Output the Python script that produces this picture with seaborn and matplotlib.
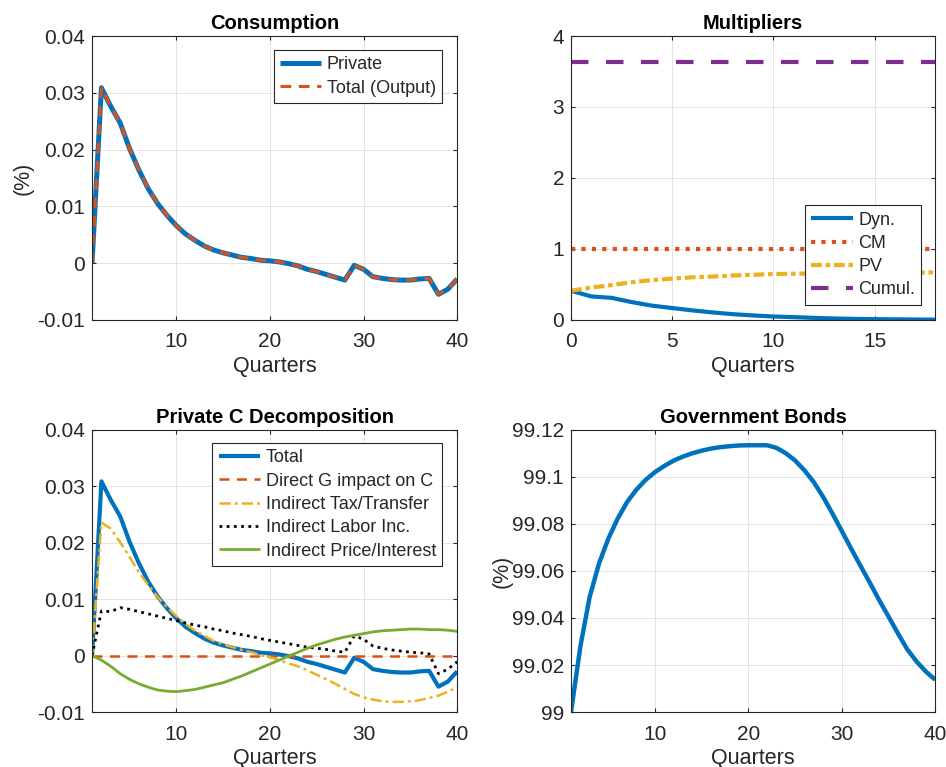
import numpy as np
import seaborn as sns
import matplotlib.pyplot as plt
from matplotlib.ticker import FuncFormatter

# quarters 1..40
quarters = list(range(1, 41))

c_private = [0.0, 0.0309, 0.0276, 0.0247, 0.0202, 0.0164, 0.0131, 0.0105, 0.0084, 0.0066,
             0.0051, 0.0040, 0.0030, 0.0023, 0.0018, 0.0014, 0.0010, 0.0008, 0.0005, 0.0004,
             0.0002, -0.0001, -0.0005, -0.0011, -0.0015, -0.0020, -0.0025, -0.0030, -0.0004, -0.0011,
             -0.0024, -0.0027, -0.0029, -0.0030, -0.0030, -0.0028, -0.0027, -0.0055, -0.0046, -0.0028]
c_total = c_private

direct_g = [0.0] * 40
tax_transfer = [0.0, 0.0236, 0.0225, 0.0201, 0.0175, 0.0148, 0.0125, 0.0104, 0.0086, 0.0070,
                0.0056, 0.0044, 0.0035, 0.0026, 0.0020, 0.0015, 0.0010, 0.0006, 0.0001, -0.0003,
                -0.0008, -0.0014, -0.0019, -0.0026, -0.0034, -0.0042, -0.0050, -0.0059, -0.0068, -0.0074,
                -0.0078, -0.0081, -0.0082, -0.0082, -0.0081, -0.0079, -0.0075, -0.0071, -0.0064, -0.0056]
labor_inc = [0.0, 0.0079, 0.0078, 0.0085, 0.0082, 0.0078, 0.0074, 0.0070, 0.0066, 0.0062,
             0.0058, 0.0054, 0.0051, 0.0047, 0.0044, 0.0040, 0.0037, 0.0034, 0.0030, 0.0027,
             0.0024, 0.0021, 0.0018, 0.0015, 0.0013, 0.0011, 0.0008, 0.0006, 0.0035, 0.0029,
             0.0017, 0.0013, 0.0010, 0.0008, 0.0006, 0.0005, 0.0003, -0.0032, -0.0024, -0.0011]
price_interest = [0.0, -0.0008, -0.0019, -0.0032, -0.0042, -0.0050, -0.0056, -0.0061, -0.0063, -0.0064,
                  -0.0062, -0.0060, -0.0056, -0.0052, -0.0048, -0.0042, -0.0036, -0.0029, -0.0022, -0.0015,
                  -0.0008, -0.0001, 0.0006, 0.0013, 0.0019, 0.0024, 0.0029, 0.0033, 0.0036, 0.0039,
                  0.0042, 0.0044, 0.0045, 0.0046, 0.0047, 0.0047, 0.0046, 0.0046, 0.0045, 0.0043]

gov_bonds = [99.000, 99.0278, 99.0490, 99.0632, 99.0738, 99.0823, 99.0893, 99.0946, 99.0988, 99.1021,
             99.1047, 99.1070, 99.1087, 99.1101, 99.1112, 99.1121, 99.1127, 99.1131, 99.1134, 99.1135,
             99.1135, 99.1135, 99.1124, 99.1101, 99.1070, 99.1028, 99.0978, 99.0915, 99.0844, 99.0770,
             99.0695, 99.0622, 99.0550, 99.0476, 99.0406, 99.0335, 99.0267, 99.0215, 99.0172, 99.0137]

# multipliers, horizon 0..18
horizon = list(range(0, 19))
mult_dyn = [0.41, 0.33, 0.31, 0.25, 0.20, 0.166, 0.133, 0.104, 0.080, 0.062,
            0.047, 0.038, 0.028, 0.019, 0.014, 0.010, 0.007, 0.005, 0.003]
mult_pv = [0.41, 0.455, 0.49, 0.53, 0.56, 0.58, 0.60, 0.61, 0.625, 0.635,
           0.645, 0.65, 0.655, 0.658, 0.661, 0.663, 0.665, 0.667, 0.668]
mult_cm = 1.0
mult_cumul = 3.63

BLUE = '#0072BD'
ORANGE = '#D95319'
YELLOW = '#EDB120'
PURPLE = '#7E2F8E'
GREEN = '#77AC30'
DARK = '#262626'

sns.set_theme(style='white')
plt.rcParams['font.family'] = ['Liberation Sans', 'DejaVu Sans']
plt.rcParams.update({
    'axes.edgecolor': DARK,
    'axes.linewidth': 0.8,
    'xtick.color': DARK,
    'ytick.color': DARK,
    'xtick.labelcolor': DARK,
    'ytick.labelcolor': DARK,
    'axes.labelcolor': DARK,
    'xtick.direction': 'in',
    'ytick.direction': 'in',
    'xtick.major.size': 3,
    'ytick.major.size': 3,
    'xtick.major.width': 0.8,
    'ytick.major.width': 0.8,
    'xtick.labelsize': 15,
    'ytick.labelsize': 15,
    'lines.solid_capstyle': 'butt',
    'lines.dash_capstyle': 'butt',
})

fig = plt.figure(figsize=(9.46, 7.67), dpi=100)
ax1 = fig.add_axes([0.0973, 0.583, 0.386, 0.370])
ax2 = fig.add_axes([0.6036, 0.583, 0.385, 0.370])
ax3 = fig.add_axes([0.0973, 0.0717, 0.386, 0.3677])
ax4 = fig.add_axes([0.6036, 0.0717, 0.385, 0.3677])

gfmt = FuncFormatter(lambda v, p: '%g' % round(v, 6))


def style(ax, title):
    ax.set_title(title, fontsize=14.5, fontweight='bold', color='black', pad=5)
    ax.grid(True, color='#e3e3e3', linewidth=0.7)
    ax.set_axisbelow(True)
    ax.tick_params(which='both', top=True, right=True, bottom=True, left=True)
    ax.tick_params(axis='x', pad=9)
    ax.tick_params(axis='y', pad=5)
    ax.yaxis.set_major_formatter(gfmt)
    ax.set_xlabel('Quarters', fontsize=15.5, labelpad=3)
    for s in ax.spines.values():
        s.set_visible(True)


def legend(ax, loc, anchor):
    leg = ax.legend(loc=loc, bbox_to_anchor=anchor, borderaxespad=0, fontsize=13,
                    frameon=True, fancybox=False, edgecolor=DARK, framealpha=1,
                    handlelength=2.3, handletextpad=0.3, labelspacing=0.35, borderpad=0.35)
    leg.get_frame().set_linewidth(0.8)


# Consumption
sns.lineplot(x=quarters, y=c_private, ax=ax1, color=BLUE, lw=3.6, label='Private')
sns.lineplot(x=quarters, y=c_total, ax=ax1, color=ORANGE, lw=2.2,
             linestyle=(0, (3.5, 2.5)), label='Total (Output)')
ax1.set_xlim(1, 40)
ax1.set_ylim(-0.01, 0.04)
ax1.set_xticks([10, 20, 30, 40])
ax1.set_yticks([-0.01, 0, 0.01, 0.02, 0.03, 0.04])
style(ax1, 'Consumption')
ax1.set_ylabel('(%)', fontsize=15.5, labelpad=3)
legend(ax1, 'upper right', (0.959, 0.951))

# Multipliers
sns.lineplot(x=horizon, y=mult_dyn, ax=ax2, color=BLUE, lw=3, label='Dyn.')
sns.lineplot(x=horizon, y=np.full(len(horizon), mult_cm), ax=ax2, color=ORANGE, lw=3,
             linestyle=(0, (1, 1.5)), label='CM')
sns.lineplot(x=horizon, y=mult_pv, ax=ax2, color=YELLOW, lw=3,
             linestyle=(0, (2.6, 0.9, 1.1, 0.9)), label='PV')
sns.lineplot(x=horizon, y=np.full(len(horizon), mult_cumul), ax=ax2, color=PURPLE, lw=3,
             linestyle=(0, (4.2, 4.2)), label='Cumul.')
ax2.set_xlim(0, 18)
ax2.set_ylim(0, 4)
ax2.set_xticks([0, 5, 10, 15])
ax2.set_yticks([0, 1, 2, 3, 4])
style(ax2, 'Multipliers')
legend(ax2, 'lower right', (0.962, 0.053))

# Private C decomposition
sns.lineplot(x=quarters, y=c_private, ax=ax3, color=BLUE, lw=3, label='Total')
sns.lineplot(x=quarters, y=direct_g, ax=ax3, color=ORANGE, lw=1.8,
             linestyle=(0, (4, 3)), label='Direct G impact on C')
sns.lineplot(x=quarters, y=tax_transfer, ax=ax3, color=YELLOW, lw=1.8,
             linestyle=(0, (4.5, 1.6, 1.2, 1.6)), label='Indirect Tax/Transfer')
sns.lineplot(x=quarters, y=labor_inc, ax=ax3, color='black', lw=2,
             linestyle=(0, (1, 1.6)), label='Indirect Labor Inc.')
sns.lineplot(x=quarters, y=price_interest, ax=ax3, color=GREEN, lw=2,
             label='Indirect Price/Interest')
ax3.set_xlim(1, 40)
ax3.set_ylim(-0.01, 0.04)
ax3.set_xticks([10, 20, 30, 40])
ax3.set_yticks([-0.01, 0, 0.01, 0.02, 0.03, 0.04])
style(ax3, 'Private C Decomposition')
legend(ax3, 'upper right', (0.959, 0.954))

# Government bonds
sns.lineplot(x=quarters, y=gov_bonds, ax=ax4, color=BLUE, lw=3.2)
ax4.set_xlim(1, 40)
ax4.set_ylim(99, 99.12)
ax4.set_xticks([10, 20, 30, 40])
ax4.set_yticks([99, 99.02, 99.04, 99.06, 99.08, 99.1, 99.12])
style(ax4, 'Government Bonds')
ax4.set_ylabel('(%)', fontsize=15.5, labelpad=-1)

fig.savefig('out.png', dpi=100)
